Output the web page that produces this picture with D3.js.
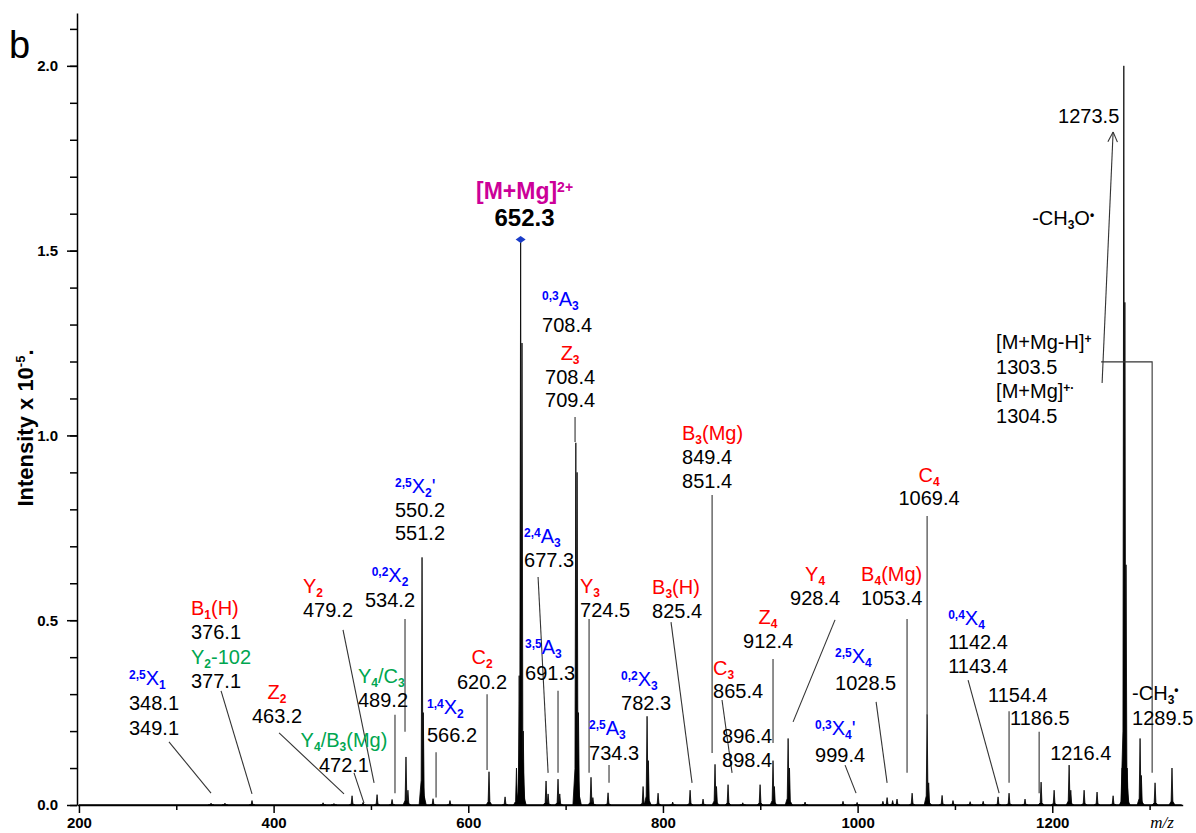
<!DOCTYPE html>
<html>
<head>
<meta charset="utf-8">
<script src="https://d3js.org/d3.v7.min.js"></script>
<style>
  body { margin: 0; background: #fff; }
  svg text { font-family: "Liberation Sans", Arial, sans-serif; }
  .axis path, .axis line { stroke: #000; stroke-width: 1.5px; }
  .axis text { font-size: 15px; font-weight: bold; fill: #000; }
</style>
</head>
<body>
<div id="chart"></div>
<script>
// spectrum peaks: m/z and intensity (x 10^5)
var peakMz = [335.7, 350, 377.8, 450.8, 462, 480.6, 491.9, 506.3, 521.7, 536, 538, 552.5, 553.8, 563.8, 581.2,
  621.3, 637.8, 649.5, 652.3, 653.8, 655.2, 656.5, 679.9, 682, 692.2, 694, 710.5, 711.8, 713.2, 726.1, 728,
  743.6, 779.6, 783.7, 785, 795, 810, 827.9, 841.2, 853.5, 855, 866.9, 882, 899.8, 913.1, 914.5, 928.6, 930,
  946, 985, 999.5, 1026, 1030.3, 1036, 1040.5, 1056, 1071.4, 1073, 1086.8, 1098, 1115.6, 1129, 1144.3,
  1155.6, 1172, 1188.5, 1201.9, 1217.3, 1219, 1232.7, 1246, 1262.5, 1271.8, 1273.5, 1274.6, 1275.8, 1277,
  1290.2, 1291.5, 1305.6, 1323];
var peakInt = [0.005, 0.005, 0.012, 0.006, 0.004, 0.025, 0.007, 0.028, 0.015, 0.13, 0.04, 0.67, 0.25, 0.017, 0.012,
  0.09, 0.022, 0.10, 0.35, 1.53, 1.25, 0.2, 0.065, 0.03, 0.07, 0.03, 0.98, 0.9, 0.25, 0.075, 0.02,
  0.033, 0.05, 0.24, 0.12, 0.032, 0.008, 0.04, 0.016, 0.11, 0.05, 0.055, 0.006, 0.055, 0.12, 0.05, 0.18, 0.10,
  0.008, 0.01, 0.007, 0.01, 0.02, 0.012, 0.016, 0.032, 0.245, 0.06, 0.026, 0.012, 0.009, 0.01, 0.022,
  0.032, 0.016, 0.062, 0.04, 0.108, 0.04, 0.04, 0.035, 0.025, 0.1, 2.0, 1.36, 0.65, 0.1,
  0.18, 0.08, 0.06, 0.10];

var xTicks = [200, 400, 600, 800, 1000, 1200];
var xMinorTicks = [300, 500, 700, 900, 1100, 1300];
var yTicks = [0, 0.5, 1.0, 1.5, 2.0];
var yMinorTicks = d3.range(0, 22).map(function (i) { return i / 10; });

// annotation blocks: anchor point in data units (m/z, intensity), lines of [kind, text]
var labels = [
  { mz: 251.4, at: 0.325, gap: 25, anchor: "s", lines: [["cross", "^{2,5}X_{1}"], ["mass", "348.1"], ["mass", "349.1"]] },
  { mz: 315.1, at: 0.514, gap: 24.3, anchor: "s", lines: [["glyco", "B_{1}(H)"], ["mass", "376.1"], ["internal", "Y_{2}-102"], ["mass", "377.1"]] },
  { mz: 403.5, at: 0.287, gap: 24, anchor: "m", lines: [["glyco", "Z_{2}"], ["mass", "463.2"]] },
  { mz: 472.3, at: 0.157, gap: 25, anchor: "m", lines: [["internal", "Y_{4}/B_{3}(Mg)"], ["mass", "472.1"]] },
  { mz: 430.2, at: 0.574, gap: 24, anchor: "s", lines: [["glyco", "Y_{2}"], ["mass", "479.2"]] },
  { mz: 486.7, at: 0.330, gap: 24, anchor: "s", lines: [["internal", "Y_{4}/C_{3}"], ["mass", "489.2"]] },
  { mz: 519.6, at: 0.6035, gap: 25, anchor: "m", lines: [["cross", "^{0,2}X_{2}"], ["mass", "534.2"]] },
  { mz: 524.7, at: 0.844, gap: 23.5, anchor: "s", lines: [["cross", "^{2,5}X_{2}'"], ["mass", "550.2"], ["mass", "551.2"]] },
  { mz: 557.6, at: 0.246, gap: 28, anchor: "s", lines: [["cross", "^{1,4}X_{2}"], ["mass", "566.2"]] },
  { mz: 614.1, at: 0.381, gap: 25, anchor: "m", lines: [["glyco", "C_{2}"], ["mass", "620.2"]] },
  { mz: 657.8, at: 1.640, gap: 27, anchor: "m", lines: [["prec", "[M+Mg]^{2+}"], ["bold", "652.3"]] },
  { mz: 675.8, at: 1.350, gap: 26, anchor: "s", lines: [["cross", "^{0,3}A_{3}"], ["mass", "708.4"]] },
  { mz: 704.6, at: 1.204, gap: 23.5, anchor: "m", lines: [["glyco", "Z_{3}"], ["mass", "708.4"], ["mass", "709.4"]] },
  { mz: 657.3, at: 0.709, gap: 24, anchor: "s", lines: [["cross", "^{2,4}A_{3}"], ["mass", "677.3"]] },
  { mz: 658.3, at: 0.409, gap: 26, anchor: "s", lines: [["cross", "^{3,5}A_{3}"], ["mass", "691.3"]] },
  { mz: 714.8, at: 0.574, gap: 24, anchor: "s", lines: [["glyco", "Y_{3}"], ["mass", "724.5"]] },
  { mz: 724.1, at: 0.189, gap: 25, anchor: "s", lines: [["cross", "^{2,5}A_{3}"], ["mass", "734.3"]] },
  { mz: 757.0, at: 0.322, gap: 24, anchor: "s", lines: [["cross", "^{0,2}X_{3}"], ["mass", "782.3"]] },
  { mz: 788.8, at: 0.571, gap: 24, anchor: "s", lines: [["glyco", "B_{3}(H)"], ["mass", "825.4"]] },
  { mz: 819.6, at: 0.988, gap: 24, anchor: "s", lines: [["glyco", "B_{3}(Mg)"], ["mass", "849.4"], ["mass", "851.4"]] },
  { mz: 851.5, at: 0.352, gap: 23, anchor: "s", lines: [["glyco", "C_{3}"], ["mass", "865.4"]] },
  { mz: 860.7, at: 0.168, gap: 24, anchor: "s", lines: [["mass", "896.4"], ["mass", "898.4"]] },
  { mz: 908.0, at: 0.490, gap: 24, anchor: "m", lines: [["glyco", "Z_{4}"], ["mass", "912.4"]] },
  { mz: 956.3, at: 0.606, gap: 24, anchor: "m", lines: [["glyco", "Y_{4}"], ["mass", "928.4"]] },
  { mz: 1003.6, at: 0.606, gap: 24, anchor: "s", lines: [["glyco", "B_{4}(Mg)"], ["mass", "1053.4"]] },
  { mz: 1073.4, at: 0.874, gap: 23, anchor: "m", lines: [["glyco", "C_{4}"], ["mass", "1069.4"]] },
  { mz: 976.8, at: 0.384, gap: 27, anchor: "s", lines: [["cross", "^{2,5}X_{4}"], ["mass", "1028.5"]] },
  { mz: 956.3, at: 0.189, gap: 27, anchor: "s", lines: [["cross", "^{0,3}X_{4}'"], ["mass", "999.4"]] },
  { mz: 1093.0, at: 0.487, gap: 24, anchor: "s", lines: [["cross", "^{0,4}X_{4}"], ["mass", "1142.4"], ["mass", "1143.4"]] },
  { mz: 1134.0, at: 0.279, gap: 0, anchor: "s", lines: [["mass", "1154.4"]] },
  { mz: 1156.6, at: 0.217, gap: 0, anchor: "s", lines: [["mass", "1186.5"]] },
  { mz: 1197.8, at: 0.122, gap: 0, anchor: "s", lines: [["mass", "1216.4"]] },
  { mz: 1282.0, at: 0.284, gap: 25, anchor: "s", lines: [["mass", "-CH_{3}^{•}"], ["mass", "1289.5"]] },
  { mz: 1206.0, at: 1.846, gap: 0, anchor: "s", lines: [["mass", "1273.5"]] },
  { mz: 1179.3, at: 1.570, gap: 0, anchor: "s", lines: [["mass", "-CH_{3}O^{•}"]] },
  { mz: 1142.3, at: 1.234, gap: 24.7, anchor: "s", lines: [["mass", "[M+Mg-H]^{+}"], ["mass", "1303.5"], ["mass", "[M+Mg]^{+·}"], ["mass", "1304.5"]] }
];

// leader lines: [m/z1, int1, m/z2, int2]
var leaders = [
  [292.5, 0.171, 335.7, 0.032], [346, 0.309, 377.8, 0.030], [405.6, 0.195, 472.3, 0.030],
  [482.6, 0.087, 492.9, 0.005], [471.3, 0.474, 503.2, 0.060], [524.7, 0.244, 524.7, 0.032],
  [535, 0.503, 535, 0.198], [566.9, 0.143, 566.9, 0.02], [619.3, 0.30, 619.3, 0.095],
  [709.7, 1.050, 709.7, 0.982], [671.7, 0.617, 682, 0.087], [692.2, 0.309, 692.2, 0.087],
  [724.1, 0.503, 724.1, 0.087], [744.6, 0.108, 744.6, 0.060], [808.3, 0.495, 829.9, 0.060],
  [850.5, 0.839, 850.5, 0.141], [860.7, 0.284, 871, 0.087], [913.1, 0.395, 913.1, 0.168],
  [976.8, 0.501, 933.7, 0.225], [1050.8, 0.503, 1050.8, 0.087], [1071.4, 0.782, 1071.4, 0.244],
  [1019, 0.279, 1030.3, 0.060], [987.1, 0.108, 998.4, 0.032], [1113.5, 0.338, 1145.4, 0.032],
  [1155.6, 0.254, 1155.6, 0.060], [1186.5, 0.198, 1186.5, 0.032]
];
var bracket = [[1250.2, 1.199], [1302.6, 1.199], [1302.6, 0.087]];
var arrow = [[1251.2, 1.142], [1262.5, 1.821]];

var W = 1196, H = 833;
var svg = d3.select("#chart").append("svg").attr("width", W).attr("height", H);

var x = d3.scaleLinear().domain([198, 1334]).range([77, 1182.7]);
var y = d3.scaleLinear().domain([0, 2.143]).range([805, 13]);

// axes
svg.append("g").attr("class", "axis").attr("transform", "translate(0,805)")
  .call(d3.axisBottom(x).tickValues(xMinorTicks).tickSize(5).tickSizeOuter(0).tickFormat(""));
var gx = svg.append("g").attr("class", "axis").attr("transform", "translate(0,805)")
  .call(d3.axisBottom(x).tickValues(xTicks).tickSize(8).tickPadding(4).tickFormat(d3.format("d")));
gx.select(".domain").remove();

svg.append("g").attr("class", "axis").attr("transform", "translate(77,0)")
  .call(d3.axisLeft(y).tickValues(yMinorTicks).tickSize(7).tickSizeOuter(0).tickFormat(""));
var gy = svg.append("g").attr("class", "axis").attr("transform", "translate(77,0)")
  .call(d3.axisLeft(y).tickValues(yTicks).tickSize(10).tickPadding(9).tickFormat(d3.format(".1f")));
gy.select(".domain").remove();

svg.append("text").attr("x", 1162).attr("y", 828).attr("text-anchor", "middle")
  .style("font-family", "'Liberation Serif', serif").style("font-style", "italic").style("font-size", "17px")
  .text("m/z");

var yl = svg.append("text").attr("transform", "translate(33,428) rotate(-90)")
  .attr("text-anchor", "middle").style("font-size", "22px").style("font-weight", "bold");
yl.append("tspan").text("Intensity x 10");
yl.append("tspan").attr("dy", -8).style("font-size", "13px").text("-5");
yl.append("tspan").attr("dy", 8).text(".");

svg.append("text").attr("x", 9).attr("y", 58).style("font-size", "38px").text("b");

// spectrum
svg.append("path")
  .attr("d", d3.line()([[x(200), y(0)], [x(1333), y(0)]]))
  .attr("stroke", "#000").attr("stroke-width", 1.3).attr("fill", "none");

var area = d3.area().x(function (d) { return x(d[0]); }).y0(y(0)).y1(function (d) { return y(d[1]); });
svg.append("g").selectAll("path").data(peakMz).join("path")
  .attr("d", function (m, i) {
    var h = peakInt[i];
    return area([[m - 3, 0], [m - 0.9, h * 0.1], [m, h], [m + 0.9, h * 0.1], [m + 3, 0]]);
  })
  .attr("fill", "#000").attr("stroke", "#000").attr("stroke-width", 0.8).attr("stroke-linejoin", "round");

// leader lines
var leaderG = svg.append("g").attr("stroke", "#333").attr("stroke-width", 1.1).attr("fill", "none");
leaders.forEach(function (l) {
  leaderG.append("line").attr("x1", x(l[0])).attr("y1", y(l[1])).attr("x2", x(l[2])).attr("y2", y(l[3]));
});
leaderG.append("path").attr("d", d3.line().x(function (d) { return x(d[0]); }).y(function (d) { return y(d[1]); })(bracket));

var ax0 = x(arrow[0][0]), ay0 = y(arrow[0][1]), ax1 = x(arrow[1][0]), ay1 = y(arrow[1][1]);
leaderG.append("line").attr("x1", ax0).attr("y1", ay0).attr("x2", ax1).attr("y2", ay1);
var ang = Math.atan2(ay0 - ay1, ax0 - ax1);
[-0.45, 0.45].forEach(function (da) {
  leaderG.append("line").attr("x1", ax1).attr("y1", ay1)
    .attr("x2", ax1 + 11 * Math.cos(ang + da)).attr("y2", ay1 + 11 * Math.sin(ang + da));
});

// precursor marker
svg.append("path").attr("d", "M-5,0L0,-3.5L5,0L0,3.5Z")
  .attr("transform", "translate(" + x(653.8) + "," + y(1.53) + ")").attr("fill", "#1a3cc8");

// labels
var colorOf = { cross: "#0000ff", glyco: "#ff0000", internal: "#00a650", prec: "#cc0099", mass: "#000", bold: "#000" };

function rich(t, str, size) {
  var parts = str.split(/(\^\{[^}]*\}|_\{[^}]*\})/).filter(function (s) { return s.length; });
  var shift = 0;
  parts.forEach(function (p) {
    var target = 0, txt = p, small = false;
    if (p[0] === "^" && p[1] === "{") { target = -0.3 * size; txt = p.slice(2, -1); small = true; }
    else if (p[0] === "_" && p[1] === "{") { target = 0.2 * size; txt = p.slice(2, -1); small = true; }
    var s = t.append("tspan").attr("dy", target - shift).text(txt);
    shift = target;
    if (small) s.style("font-size", Math.round(size * 0.62) + "px").style("font-weight", "bold");
  });
}

labels.forEach(function (b) {
  b.lines.forEach(function (l, i) {
    var kind = l[0];
    var size = kind === "prec" ? 23 : kind === "bold" ? 24 : 20;
    var t = svg.append("text")
      .attr("x", x(b.mz)).attr("y", y(b.at) + i * b.gap)
      .attr("text-anchor", b.anchor === "m" ? "middle" : "start")
      .attr("fill", colorOf[kind]).style("font-size", size + "px")
      .style("font-weight", (kind === "prec" || kind === "bold") ? "bold" : "normal");
    rich(t, l[1], size);
  });
});
</script>
</body>
</html>
